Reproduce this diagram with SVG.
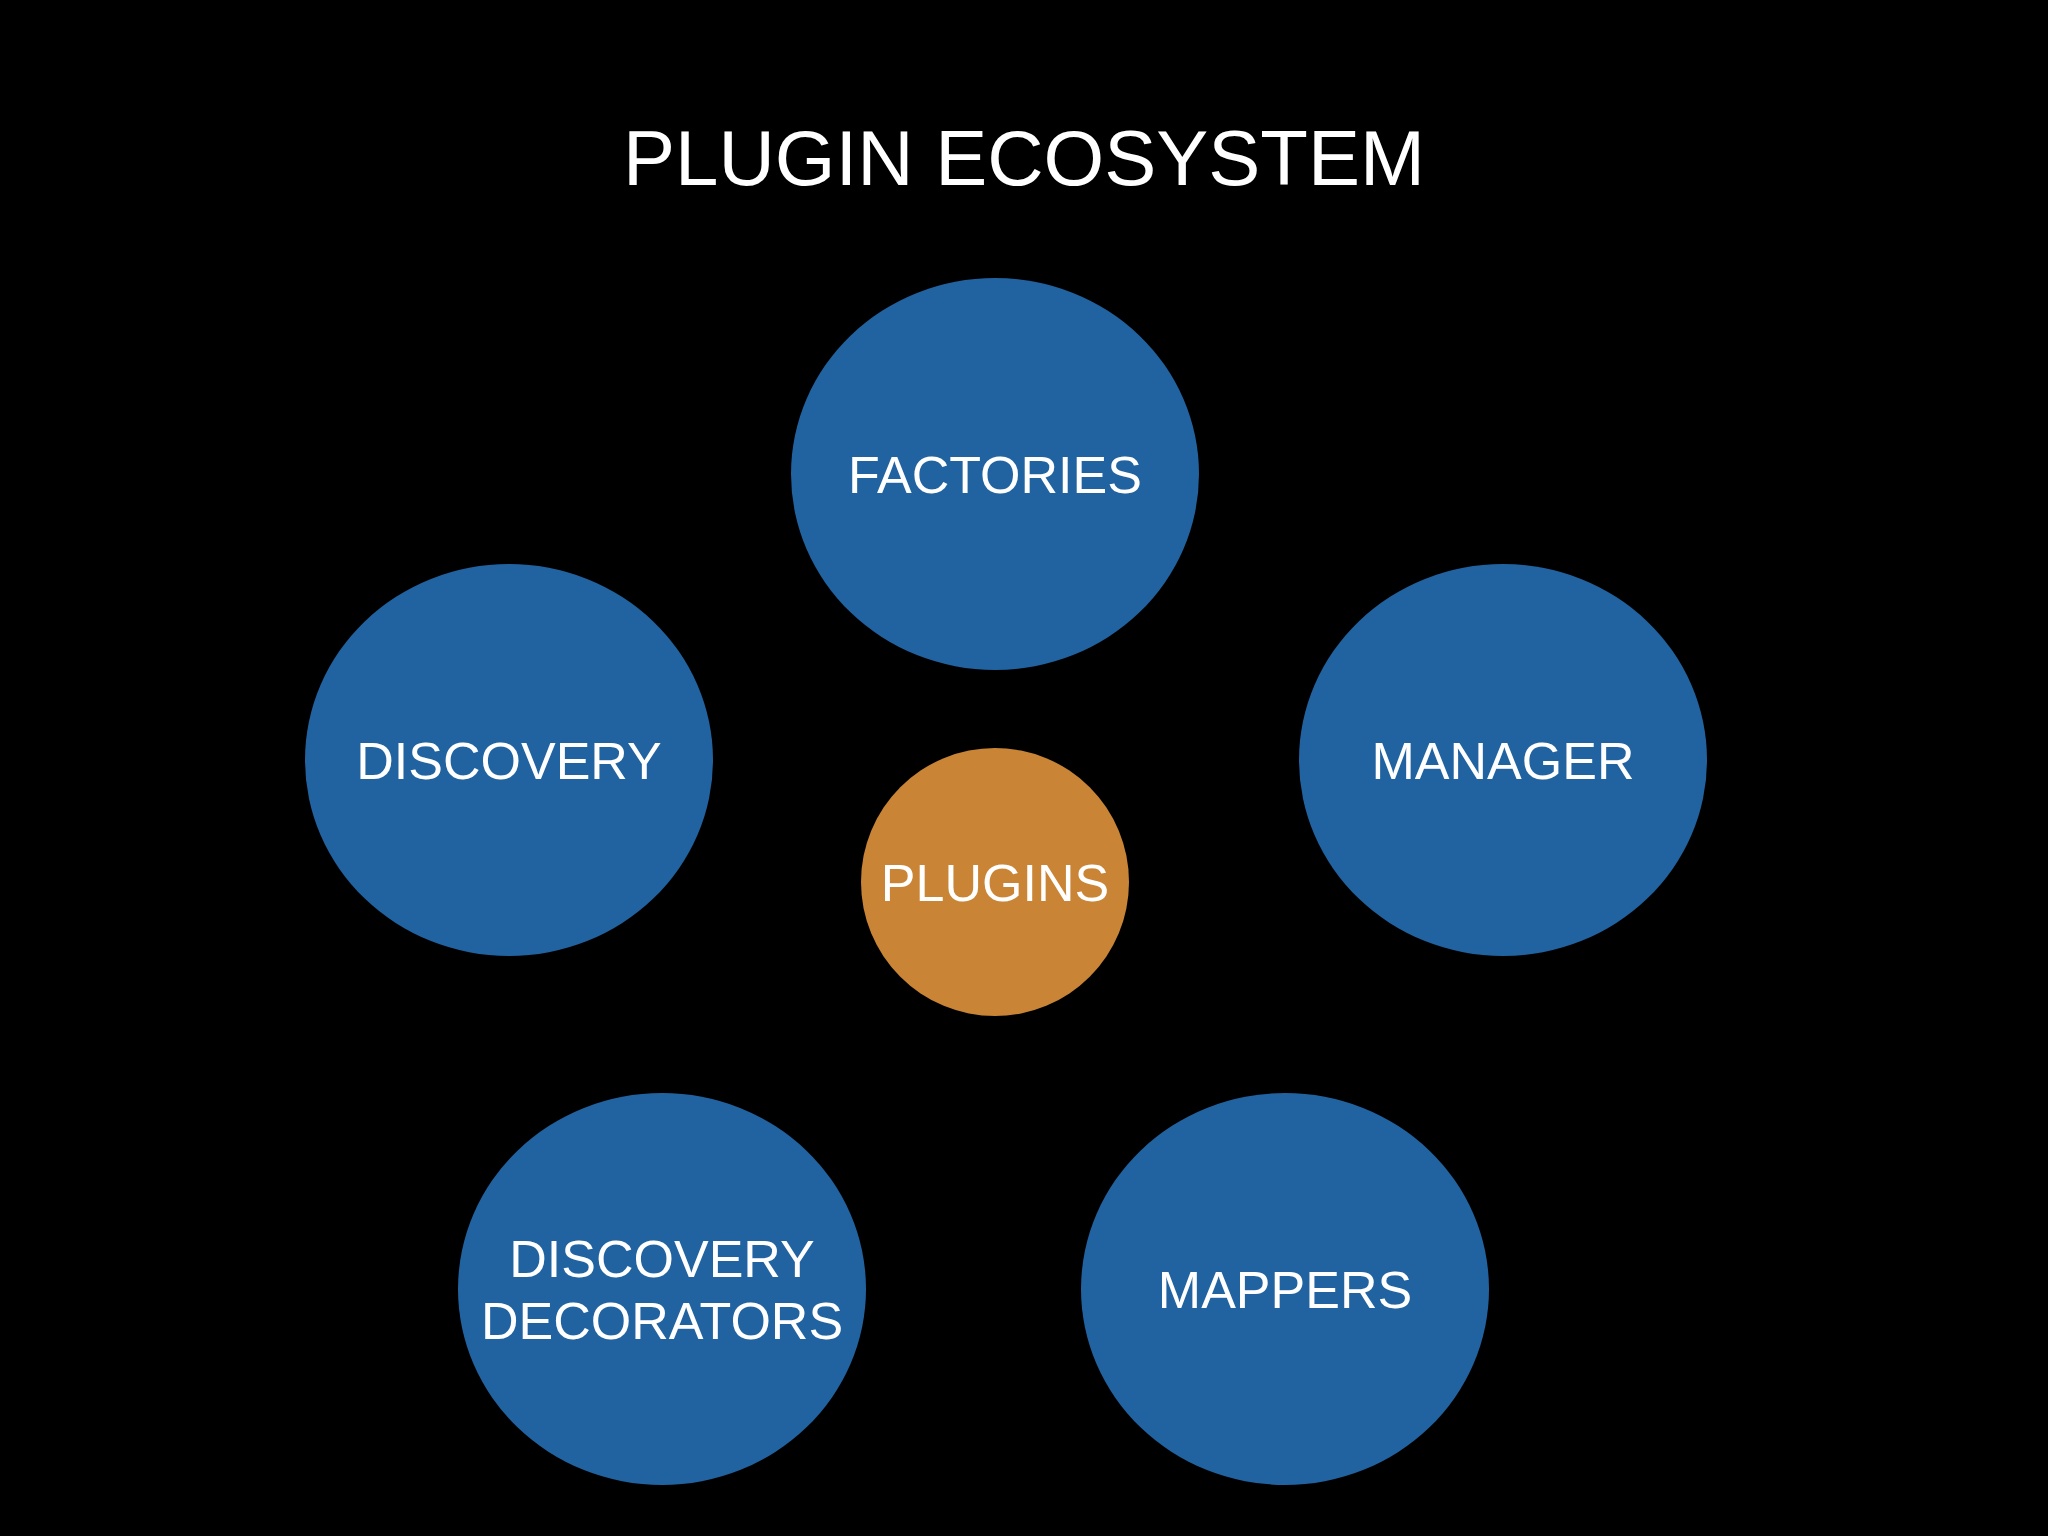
<svg xmlns="http://www.w3.org/2000/svg" width="2048" height="1536" viewBox="0 0 2048 1536">
<style>
.b{fill:#2163a0}
.o{fill:#c98535}
.t{fill:#fff;font-family:"Liberation Sans",Arial,sans-serif;font-size:52px;text-anchor:middle}
</style>
<rect width="2048" height="1536" fill="#000"/>
<text x="1024" y="185" fill="#fff" font-family="Liberation Sans,Arial,sans-serif" font-size="78" text-anchor="middle">PLUGIN ECOSYSTEM</text>
<g id="connectors"/>
<g id="factories"><ellipse class="b" cx="995" cy="474" rx="204" ry="196"/><text class="t" x="995" y="493">FACTORIES</text></g>
<g id="discovery"><ellipse class="b" cx="509" cy="760" rx="204" ry="196"/><text class="t" x="509" y="779">DISCOVERY</text></g>
<g id="manager"><ellipse class="b" cx="1503" cy="760" rx="204" ry="196"/><text class="t" x="1503" y="779">MANAGER</text></g>
<g id="plugins"><ellipse class="o" cx="995" cy="882" rx="134" ry="134"/><text class="t" x="995" y="901">PLUGINS</text></g>
<g id="decorators"><ellipse class="b" cx="662" cy="1289" rx="204" ry="196"/><text class="t" x="662" y="1277">DISCOVERY</text><text class="t" x="662" y="1339">DECORATORS</text></g>
<g id="mappers"><ellipse class="b" cx="1285" cy="1289" rx="204" ry="196"/><text class="t" x="1285" y="1308">MAPPERS</text></g>
</svg>
